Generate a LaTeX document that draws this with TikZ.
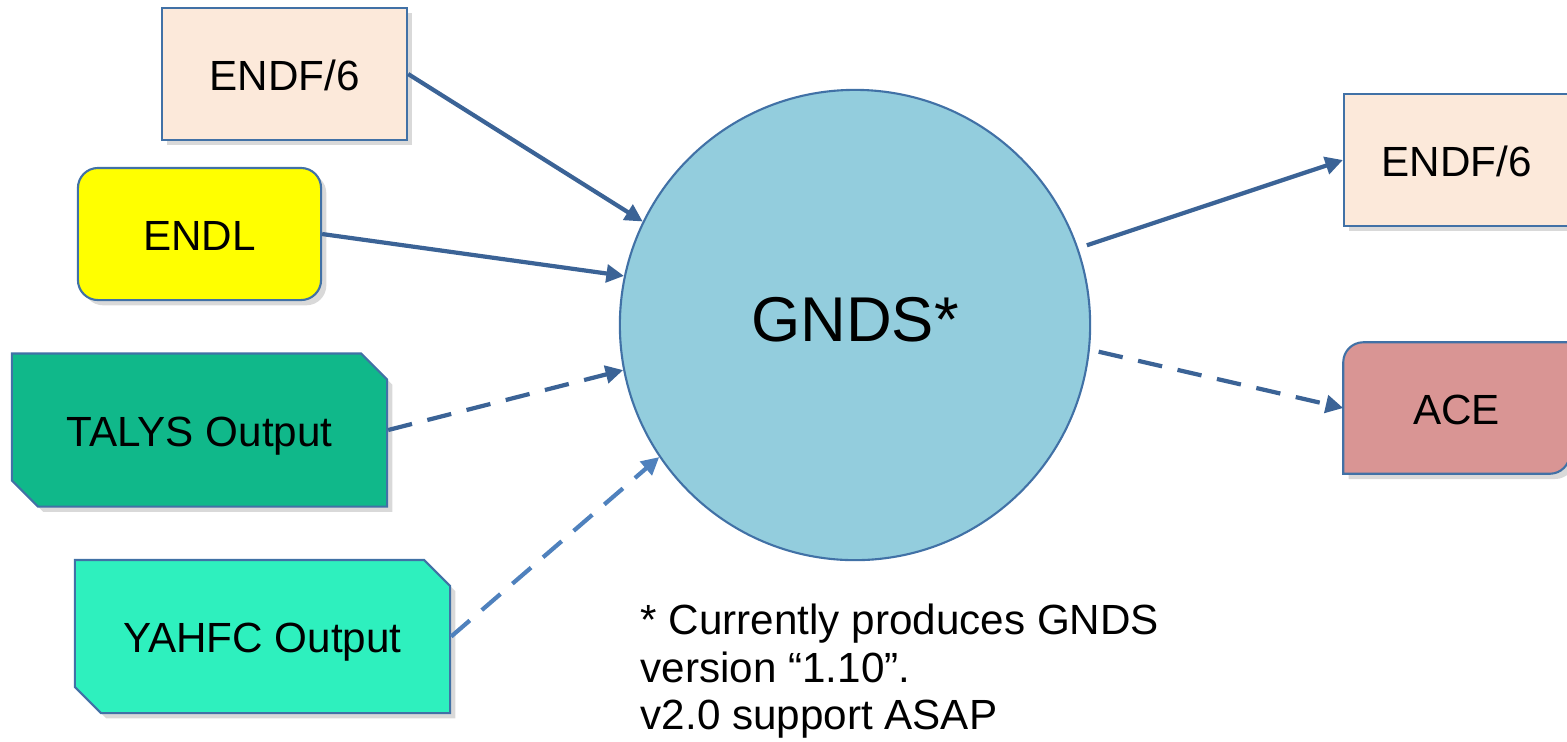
\documentclass[tikz,border=0pt]{standalone}
\usepackage{fontspec}
\setmainfont{Liberation Sans}
\usetikzlibrary{arrows.meta,shapes.misc,shadows,backgrounds}
\definecolor{edge}{RGB}{65,113,166}
\definecolor{link}{RGB}{59,99,150}
\definecolor{linklight}{RGB}{79,129,189}
\definecolor{endfcol}{RGB}{252,233,218}
\definecolor{endlcol}{RGB}{255,255,0}
\definecolor{talyscol}{RGB}{16,184,138}
\definecolor{yahfccol}{RGB}{46,240,190}
\definecolor{acecol}{RGB}{217,149,148}
\definecolor{gndscol}{RGB}{147,205,221}

\begin{document}
\begin{tikzpicture}[x=0.01cm,y=-0.01cm,
  boxshadow/.style={drop shadow={shadow xshift=1.5pt,shadow yshift=-1.5pt,opacity=0.3}},
  label/.style={font=\fontsize{12}{14}\selectfont,text height=0.92em,text depth=0pt},
  fmt/.style={label,draw=edge,line width=0.6pt,minimum width=2.45cm,minimum height=1.32cm,boxshadow},
  snip/.style={fmt,chamfered rectangle,chamfered rectangle corners={north east,south west},
    chamfered rectangle sep=0.13cm,minimum width=3.75cm,minimum height=1.53cm},
  flow/.style={link,line width=1.2pt,-{Triangle[length=5pt,width=5pt]}},
  maybe/.style={flow,dash pattern=on 7pt off 4.5pt}]
  \useasboundingbox (0,0) rectangle (1567,741);
  % inputs
  \node[fmt,fill=endfcol] (endfin) at (284.5,74) {ENDF/6};
  \node[fmt,fill=endlcol,rounded corners=0.2cm,minimum width=2.43cm] (endl) at (199.5,234) {ENDL};
  \node[snip,fill=talyscol] (talys) at (199.5,430) {TALYS Output};
  \node[snip,fill=yahfccol] (yahfc) at (262.5,636.5) {YAHFC Output};
  % the hub
  \node[circle,draw=edge,line width=0.6pt,fill=gndscol,minimum size=4.7cm,inner sep=0,
    font=\fontsize{18}{20}\selectfont,text height=0.92em,text depth=0pt] (gnds) at (855,325) {GNDS*};
  % outputs
  \node[fmt,fill=endfcol,minimum width=2.25cm] (endfout) at (1456.5,160) {ENDF/6};
  \node[label,minimum width=2.25cm,minimum height=1.3cm] (ace) at (1456.5,408) {ACE};
  \begin{scope}[on background layer]
    \filldraw[fill=acecol,draw=edge,line width=0.6pt,boxshadow] (ace.south west)
      -- ([yshift=-0.2cm]ace.north west) arc[start angle=180,end angle=90,radius=0.2cm]
      -- (ace.north east) -- ([yshift=0.2cm]ace.south east)
      arc[start angle=0,end angle=-90,radius=0.2cm] -- cycle;
  \end{scope}
  % connectors
  \draw[flow] (endfin.east) -- (gnds.154.7);
  \draw[flow] (endl.east) -- (gnds.168);
  \draw[maybe] (talys.east) -- (gnds.191.4);
  \draw[maybe,linklight] (yahfc.east) -- (gnds.214.6);
  \draw[flow,shorten <=0.09cm] (gnds.19.6) -- (endfout.west);
  \draw[maybe,shorten <=0.09cm] (gnds.-6.4) -- (ace.west);
  % footnote
  \node[anchor=north west,inner sep=0,align=left,font=\fontsize{12}{13.6}\selectfont] (note) at (640,603)
    {* Currently produces GNDS\\version “1.10”.\\v2.0 support ASAP};
\end{tikzpicture}
\end{document}
